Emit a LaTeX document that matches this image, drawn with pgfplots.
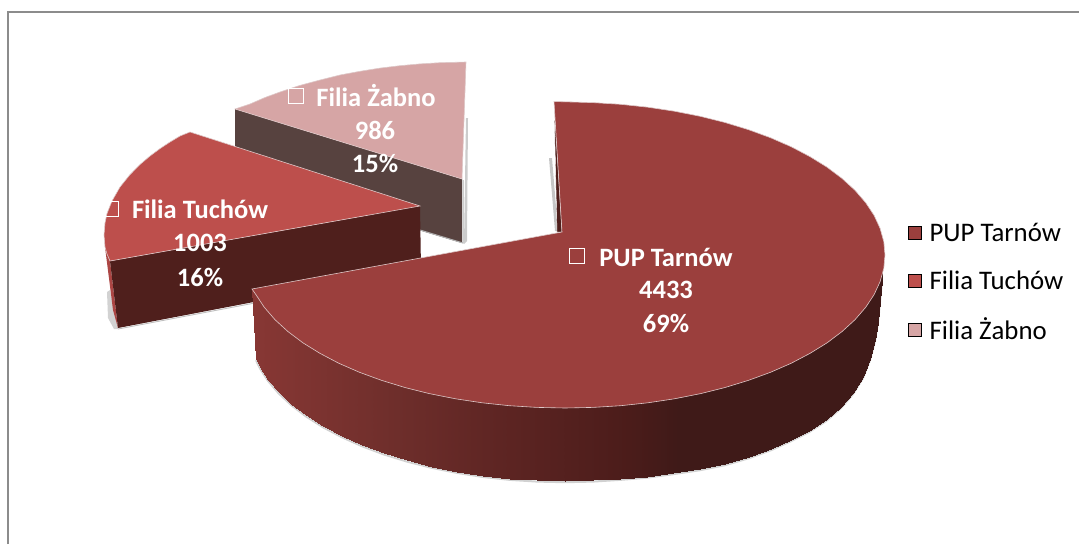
\documentclass[border=0pt]{standalone}
\usepackage{fontspec}
\setmainfont{Carlito}
\usepackage{pgfplots}
\usepackage{pgfplotstable}
\pgfplotsset{compat=1.18}
\definecolor{cMain}{RGB}{155,63,61}
\definecolor{cTuch}{RGB}{189,79,76}
\definecolor{cZab}{RGB}{214,165,165}
\definecolor{cTuchSide}{RGB}{79,31,28}
\definecolor{cZabSide}{RGB}{87,66,63}
\definecolor{cEdge}{RGB}{222,200,200}
\pgfplotstableread{
x y
256 359
259.8 366.9
268 379.7
278.6 392.1
291.3 404
306.1 415.3
322.9 426
341.6 435.9
361.9 445
383.7 453.2
407 460.4
431.5 466.6
456.9 471.7
483.2 475.8
510.1 478.7
537.4 480.4
565 481
592.6 480.4
619.9 478.7
646.8 476.5
673 473
700 469
725 464
749 457
771 449
791 440
809 431
826 420
841 407
853 393
863 377
870 359
875 340
878 322
882 280
}\mainbottom
\pgfplotstableread{
x y
554 101.5
592.9 102.6
620.6 104.3
647.8 107.2
674.4 111.2
700.2 116.3
725 122.5
748.6 129.7
770.7 137.8
791.3 146.8
810.1 156.7
827.1 167.2
842.1 178.5
855 190.3
865.7 202.7
874.1 215.4
880.1 228.4
883.8 241.7
885 255
883.8 268.3
880.1 281.6
874.1 294.6
865.7 307.3
855 319.7
842.1 331.5
827.1 342.8
810.1 353.3
791.3 363.2
770.7 372.2
748.6 380.3
725 387.5
700.2 393.7
674.4 398.8
647.8 402.8
620.6 405.7
592.9 407.4
565 408
537.1 407.4
509.4 405.7
482.2 402.8
455.6 398.8
429.8 393.7
405 387.5
381.4 380.3
359.3 372.2
338.7 363.2
319.9 353.3
302.9 342.8
287.9 331.5
275 319.7
264.3 307.3
255.9 294.6
252 289
562 232
}\maintop
\begin{document}
\begin{tikzpicture}
\begin{axis}[
  scale only axis, width=1079pt, height=544pt,
  xmin=0, xmax=1079, ymin=0, ymax=544, y dir=reverse,
  hide axis,
  colormap={piecm}{rgb255(0pt)=(135,55,52); rgb255(140pt)=(110,46,43); rgb255(243pt)=(94,37,35); rgb255(373pt)=(75,28,26); rgb255(423pt)=(63,26,24); rgb255(626pt)=(63,26,24)},
  point meta min=256, point meta max=882,
  legend cell align=left,
  legend style={at={(axis cs:906,221)}, anchor=north west, draw=none, fill=none,
    font=\fontsize{26.8}{30}\selectfont, row sep=23.5pt, inner sep=0pt,
    nodes={inner sep=2pt}},
  legend image code/.code={\fill[#1] (2pt,-6.5pt) rectangle (15pt,6.5pt); \path (0pt,0pt) (21pt,0pt);},
]
% frame
\addplot[forget plot, draw={rgb,255:red,140;green,140;blue,140}, line width=1.4pt] coordinates {(8,544) (8,12) (1079,12)};

% Filia Zabno: shadow, side, top
\addplot[forget plot, draw=none, fill=gray!40] coordinates {(466,118) (468,118) (467,241) (464,244)} -- cycle;
\addplot[forget plot, fill=cZabSide, draw=none] coordinates {(235,109) (462,179) (462,243) (235,175)} -- cycle;
\addplot[forget plot, draw=gray!60, line width=1pt] coordinates {(463,180) (463,243) (420,230)};
\addplot[forget plot, fill=cZab, draw=cEdge, line width=.6pt] coordinates {
(235,109) (250,104) (265,97.5) (280,92) (300,85.4) (320,80) (340,75) (360,71.3) (380,68.1) (400,65.7) (420,63.9) (440,62.7) (466,62) (462,179)} -- cycle;

% Filia Tuchow: shadow, side, top
\addplot[forget plot, draw=none, fill=gray!35] coordinates {(107,292) (110,290) (118,329) (114,329) (108,318)} -- cycle;
\addplot[forget plot, fill={rgb,255:red,172;green,70;blue,68}, draw=none] coordinates {(105,247) (110,261) (118,328) (113,310)} -- cycle;
\addplot[forget plot, fill=cTuchSide, draw=none] coordinates {(110,261) (420,206) (421,270) (118,328)} -- cycle;
\addplot[forget plot, draw=gray!50, line width=.9pt] coordinates {(118,329) (260,302)};
\addplot[forget plot, fill=cTuch, draw=cEdge, line width=.6pt] coordinates {
(190,132) (180,136) (170,142) (160,148.6) (150,156) (140,164.5) (130,174.6) (120,187) (112,201) (107,213.5) (105,223) (104,235) (105,247) (107,254) (110,261) (420,206)} -- cycle;

% PUP Tarnow: back sliver, shadow, side, top
\addplot[forget plot, draw=none, fill=gray!45] coordinates {(549,158) (552,158) (558,231) (555,231)} -- cycle;
\addplot[forget plot, fill=cTuchSide, draw=white, line width=.4pt] coordinates {(554,101) (562,232) (557,232)} -- cycle;
\addplot[forget plot, draw=gray!60, line width=2pt, opacity=.6, yshift=-1.2pt] table {\mainbottom};
\addplot[forget plot, patch, patch type=rectangle, mesh input=lattice, mesh/cols=35, shader=interp, point meta=x] table {
x y
256 359
259.8 366.9
268 379.7
278.6 392.1
291.3 404
306.1 415.3
322.9 426
341.6 435.9
361.9 445
383.7 453.2
407 460.4
431.5 466.6
456.9 471.7
483.2 475.8
510.1 478.7
537.4 480.4
565 481
592.6 480.4
619.9 478.7
646.8 476.5
673 473
700 469
725 464
749 457
771 449
791 440
809 431
826 420
841 407
853 393
863 377
870 359
875 340
878 322
882 280
252 289
259.8 296
268 300
278.6 300
291.3 300
306.1 300
322.9 300
341.6 300
361.9 300
383.7 300
407 300
431.5 300
456.9 300
483.2 300
510.1 300
537.4 300
565 300
592.6 300
619.9 300
646.8 300
673 300
700 300
725 300
749 300
771 300
791 300
809 300
826 300
841 300
853 300
863 300
870 295
875 290
878 285
882 272
};
\addplot[forget plot, fill=cMain, draw=cEdge, line width=.6pt] table {\maintop} -- cycle;

% page extent
\addplot[forget plot, draw=none] coordinates {(0,0) (1079,544)};

% data labels
\begin{scope}[every node/.style={text=white, font=\fontsize{26.5}{30}\selectfont\bfseries, inner sep=0pt}]
\node at (axis cs:376,96) {Filia Żabno};
\node at (axis cs:375,130) {986};
\node at (axis cs:375,163) {15\%};
\node at (axis cs:200,209) {Filia Tuchów};
\node at (axis cs:200,243) {1003};
\node at (axis cs:200,277) {16\%};
\node at (axis cs:666,257) {PUP Tarnów};
\node at (axis cs:666,290) {4433};
\node at (axis cs:666,323) {69\%};
\end{scope}
\begin{scope}[every node/.style={draw=white, line width=1.2pt, minimum size=14.5pt, inner sep=0pt}]
\node at (axis cs:296,96) {};
\node at (axis cs:111,209) {};
\node at (axis cs:577,256) {};
\end{scope}

% legend
\addlegendimage{fill=cMain}\addlegendentry{PUP Tarnów}
\addlegendimage{fill=cTuch}\addlegendentry{Filia Tuchów}
\addlegendimage{fill=cZab}\addlegendentry{Filia Żabno}
\end{axis}
\path[use as bounding box] (current axis.south west) rectangle (current axis.north east);
\end{tikzpicture}
\end{document}
